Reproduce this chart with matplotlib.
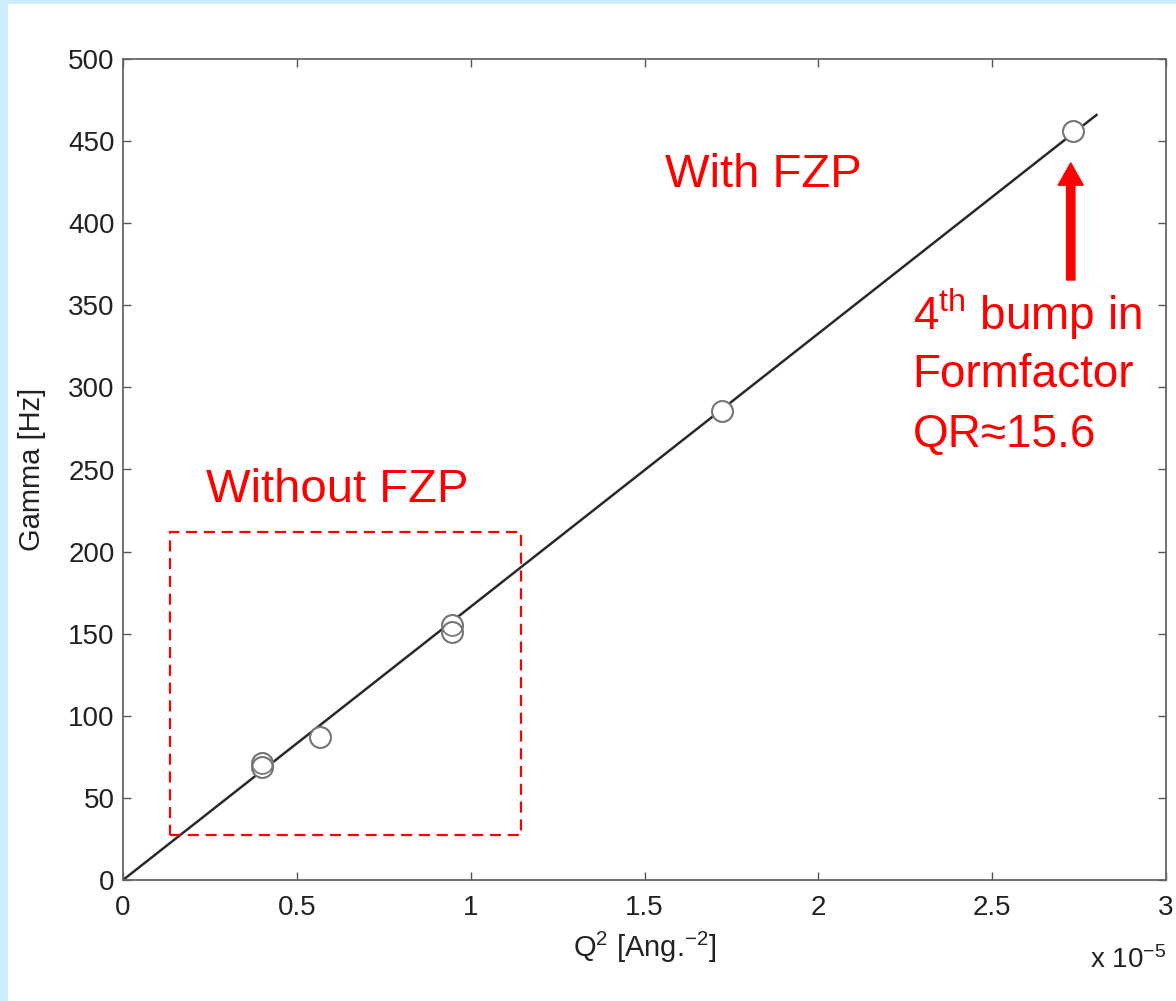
import numpy as np
import matplotlib
matplotlib.use("Agg")
import matplotlib.pyplot as plt
from matplotlib.patches import Rectangle

plt.rcParams['font.family'] = ['Liberation Sans', 'DejaVu Sans']
plt.rcParams['mathtext.fontset'] = 'custom'
plt.rcParams['mathtext.rm'] = 'Liberation Sans'
plt.rcParams['mathtext.it'] = 'Liberation Sans:italic'

# Messwerte: Q^2 in 1e-5 Ang^-2, Gamma in Hz
q2 = [0.40, 0.40, 0.567, 0.946, 0.946, 1.723, 2.732]
gamma = [71, 69, 87, 155, 151, 285.6, 456]

# lineare Anpassung Gamma = k * Q^2
slope = 166.4
fit_end = 2.80

# Bereich ohne FZP
box_x = [0.135, 1.145]
box_y = [27.4, 212]

# Beschriftung am 4. Maximum
bump_lines = ['4$^{\\mathrm{th}}$ bump in', 'Formfactor', 'QR≈15.6']
bump_y = [335, 300, 264]

scale = 1e-5
q2 = np.array(q2) * scale
gamma = np.array(gamma)

fig = plt.figure(figsize=(11.76, 10.01), dpi=100)
fig.patch.set_facecolor('#cdeefc')
fig.patches.append(Rectangle((8 / 1176, 0), 1, (1001 - 4) / 1001,
                             transform=fig.transFigure, facecolor='white',
                             edgecolor='none', zorder=-10))

ax = fig.add_axes([123 / 1176, 121 / 1001, 1043 / 1176, 821 / 1001])

xf = np.array([0, fit_end]) * scale
ax.plot(xf, slope * xf / scale, color='#2a2a2a', lw=1.8, zorder=2)
ax.plot(q2, gamma, 'o', ms=15, mfc='white', mec='#777777', mew=1.3, zorder=3)
ax.plot(q2, gamma, 'o', ms=15, mfc='none', mec='#777777', mew=1.3, zorder=4)

ax.add_patch(Rectangle((box_x[0] * scale, box_y[0]), (box_x[1] - box_x[0]) * scale,
                       box_y[1] - box_y[0], fill=False, edgecolor='red', lw=1.6,
                       linestyle=(0, (5, 3)), zorder=5))

ax.text(0.24 * scale, 237.5, 'Without FZP', color='red', fontsize=34,
        va='center', ha='left')
ax.text(1.56 * scale, 429.4, 'With FZP', color='red', fontsize=34,
        va='center', ha='left')
for txt, yy in zip(bump_lines, bump_y):
    ax.text(2.271 * scale, yy, txt, color='red', fontsize=33, va='baseline', ha='left')

ax.annotate('', xy=(2.726 * scale, 436.7), xytext=(2.726 * scale, 365.4),
            arrowprops=dict(arrowstyle='simple,head_width=0.9,head_length=0.8,tail_width=0.3',
                            color='red', shrinkA=0, shrinkB=0, mutation_scale=20))

ax.set_xlim(0, 3 * scale)
ax.set_ylim(0, 500)
ax.set_xticks(np.arange(0, 3.01, 0.5) * scale)
ax.set_yticks(np.arange(0, 501, 50))
ax.xaxis.set_major_formatter(plt.FuncFormatter(lambda v, p: '%g' % round(v / scale, 3)))

for s in ax.spines.values():
    s.set_color('#666666')
    s.set_linewidth(1.3)
ax.tick_params(direction='in', length=6, width=1.0, color='#555555', top=True, right=True,
               labelsize=20, labelcolor='#222222')
ax.tick_params(axis='x', pad=11)
ax.tick_params(axis='y', pad=6)

ax.set_xlabel('Q$^2$ [Ang.$^{-2}$]', fontsize=21, color='#222222', labelpad=6)
ax.set_ylabel('Gamma [Hz]', fontsize=21, color='#222222')
ax.yaxis.set_label_coords(-0.0738, 0.5)
fig.text(1166 / 1176, 1 - 968 / 1001, 'x 10$^{-5}$', fontsize=20, color='#222222',
         ha='right', va='baseline')

fig.savefig('out.png', dpi=100, facecolor=fig.get_facecolor())
